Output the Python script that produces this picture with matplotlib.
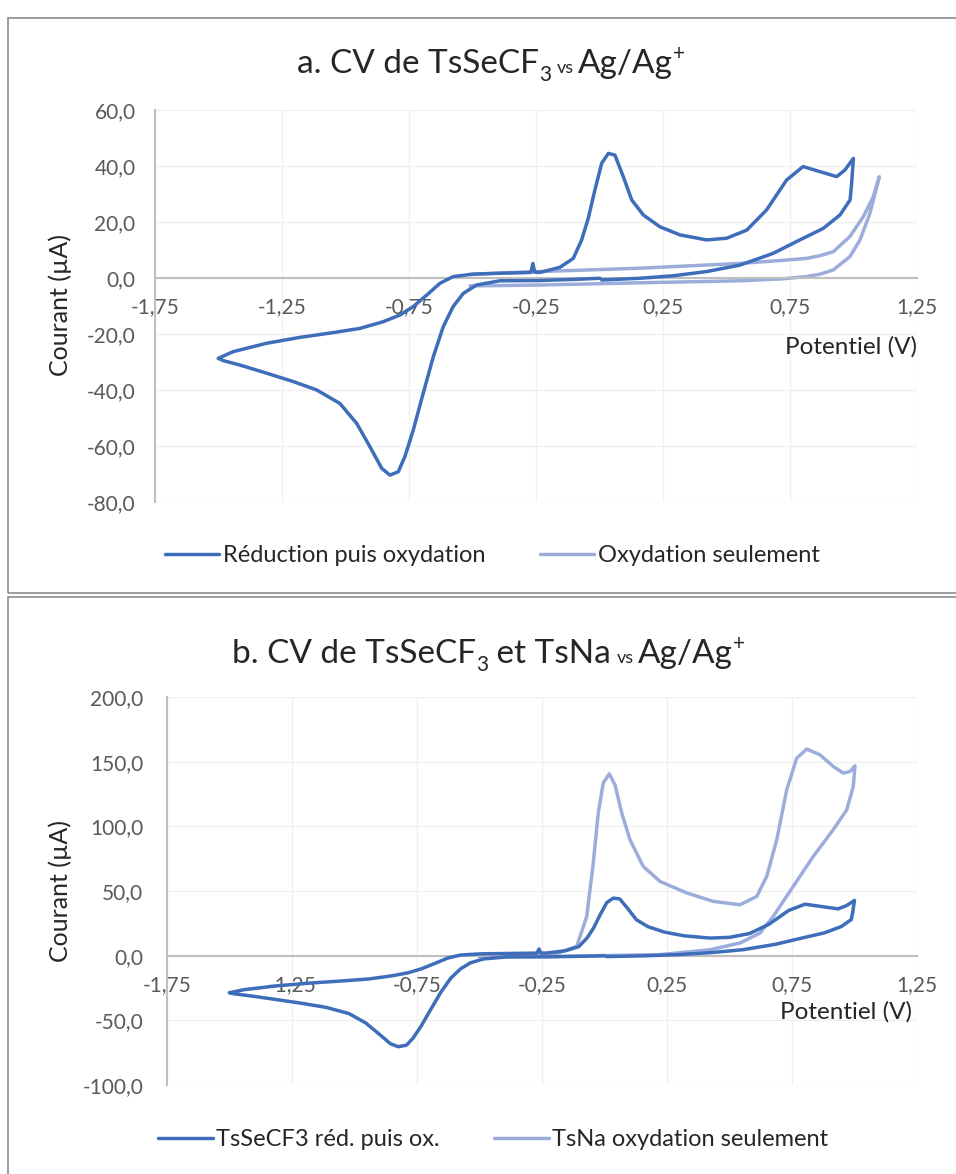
import matplotlib
matplotlib.use("Agg")

import matplotlib.pyplot as plt
from matplotlib.patches import Rectangle
from matplotlib.ticker import FuncFormatter

plt.rcParams['font.family'] = ['Lato', 'DejaVu Sans']

# TsSeCF3 : réduction puis oxydation
# départ vers 0 V, balayage négatif jusqu'à -1,5 V, retour jusqu'à 1,0 V, puis retour à 0 V
red_ox_E = [0.002, -0.10, -0.234, -0.392, -0.484, -0.536, -0.576, -0.615, -0.654, -0.694,
            -0.733, -0.766, -0.792, -0.825, -0.857, -0.904, -0.956, -1.022, -1.113, -1.205,
            -1.310, -1.415, -1.481, -1.501,
            -1.442, -1.310, -1.179, -1.048, -0.943, -0.851, -0.785, -0.733, -0.680, -0.628,
            -0.576, -0.497, -0.392, -0.30, -0.27, -0.262, -0.255, -0.234, -0.156, -0.103,
            -0.070, -0.044, -0.018, 0.009, 0.035, 0.061, 0.094, 0.127, 0.173, 0.238,
            0.317, 0.422, 0.501, 0.580, 0.658, 0.737, 0.802, 0.868, 0.934, 0.967, 1.0,
            0.993, 0.987, 0.947, 0.881, 0.789, 0.684, 0.553, 0.422, 0.291, 0.159, 0.009]
red_ox_I = [-0.1, -0.5, -0.9, -1.0, -2.5, -5.5, -10.2, -17.4, -28.1, -41.2,
            -54.3, -63.8, -69.2, -70.4, -68.0, -60.2, -51.9, -44.8, -40.0, -37.0,
            -34.0, -31.1, -29.5, -28.7,
            -26.3, -23.3, -21.2, -19.5, -18.0, -15.6, -13.2, -10.2, -6.1, -1.9,
            0.5, 1.4, 1.7, 1.9, 2.0, 5.2, 2.1, 2.0, 3.8, 7.0,
            13.6, 21.3, 31.4, 41.0, 44.5, 43.9, 36.2, 27.9, 22.5, 18.3,
            15.4, 13.6, 14.2, 17.1, 24.3, 35.0, 39.8, 38.0, 36.2, 38.6, 42.7,
            33.8, 27.9, 22.5, 17.7, 13.6, 8.8, 4.6, 2.3, 0.8, -0.1, -0.7]

# TsSeCF3 : oxydation seulement
ox_E = [-0.51, -0.392, -0.234, 0.159, 0.553, 0.72, 0.816, 0.87, 0.921, 0.986, 1.026,
        1.065, 1.102,
        1.078, 1.039, 0.986, 0.921, 0.87, 0.816, 0.72, 0.553, 0.159, -0.234, -0.392, -0.51]
ox_I = [-2.8, -2.7, -2.5, -1.7, -1.0, -0.3, 0.5, 1.4, 2.9, 7.6, 13.6,
        23.1, 36.2,
        29.0, 21.9, 14.8, 9.4, 8.0, 7.0, 6.3, 5.2, 3.5, 2.3, 1.8, 1.2]

# TsNa : oxydation seulement
tsna_E = [-0.50, -0.42, -0.25, -0.178, -0.111, -0.071, -0.045, -0.025, -0.005, 0.019,
          0.042, 0.069, 0.102, 0.155, 0.222, 0.329, 0.435, 0.542, 0.609, 0.649,
          0.689, 0.729, 0.769, 0.809, 0.862, 0.915, 0.955, 0.982, 1.002,
          0.995, 0.969, 0.915, 0.835, 0.755, 0.675, 0.622, 0.542, 0.422, 0.222,
          -0.178, -0.50]
tsna_I = [-0.5, -0.5, 0.5, 2.6, 7.2, 30.4, 71.6, 110.3, 133.5, 140.6,
          132.1, 110.3, 89.6, 69.0, 57.4, 48.5, 42.0, 39.4, 45.8, 61.3,
          89.6, 128.3, 152.8, 159.7, 155.3, 146.3, 141.2, 142.4, 146.8,
          130.8, 112.8, 97.4, 76.7, 53.6, 30.4, 17.5, 9.8, 4.6, 0.8,
          -0.5, -0.8]

x_ticks = [-1.75, -1.25, -0.75, -0.25, 0.25, 0.75, 1.25]
ya_ticks = [-80, -60, -40, -20, 0, 20, 40, 60]
yb_ticks = [-100, -50, 0, 50, 100, 150, 200]

DARK = "#3E6DBA"
PALE = "#9CADDC"
AXIS = "#BFBFBF"
GRID = "#F0F0F0"
TICK = "#595959"
TEXT = "#262626"


def comma(fmt):
    return FuncFormatter(lambda v, p: fmt.format(v).replace(".", ","))


def setup(ax, yticks, ypad):
    ax.set_xlim(-1.75, 1.25)
    ax.set_ylim(yticks[0], yticks[-1])
    ax.set_xticks(x_ticks)
    ax.set_yticks(yticks)
    ax.xaxis.set_major_formatter(comma("{:.2f}"))
    ax.yaxis.set_major_formatter(comma("{:.1f}"))
    ax.grid(color=GRID, lw=1)
    ax.set_axisbelow(True)
    for s in ["top", "right"]:
        ax.spines[s].set_visible(False)
    ax.spines["bottom"].set_position(("data", 0))
    for s in ["bottom", "left"]:
        ax.spines[s].set_color(AXIS)
        ax.spines[s].set_linewidth(1.5)
    ax.tick_params(axis="x", length=0, pad=14, labelsize=15, labelcolor=TICK)
    ax.tick_params(axis="y", length=0, pad=ypad, labelsize=15, labelcolor=TICK)


def rich_title(ax, x, y, pieces):
    # morceaux de texte enchaînés (indice, "vs" plus petit, exposant)
    prev = None
    for txt, size, dy, gap in pieces:
        if prev is None:
            prev = ax.annotate(txt, xy=(x, y), xycoords="figure fraction",
                               fontsize=size, va="baseline", ha="left", color=TEXT,
                               annotation_clip=False)
        else:
            prev = ax.annotate(txt, xy=(1, y), xycoords=(prev, "figure fraction"),
                               xytext=(gap, dy), textcoords="offset points",
                               fontsize=size, va="baseline", ha="left", color=TEXT,
                               annotation_clip=False)


def curve(ax, E, I, color):
    line, = ax.plot(E, I, color=color, lw=2.5, solid_capstyle="round",
                    solid_joinstyle="round", zorder=3 if color == DARK else 2)
    return line


fig = plt.figure(figsize=(9.56, 11.74), dpi=100)

# cadres des deux graphiques
fig.patches.append(Rectangle((0.0084, 0.4949), 1.2, 0.4898, transform=fig.transFigure,
                             fill=False, ec="#8C8C8C", lw=1.2))
fig.patches.append(Rectangle((0.0084, -0.2), 1.2, 0.6915, transform=fig.transFigure,
                             fill=False, ec="#8C8C8C", lw=1.2))

leg_kw = dict(loc="center", ncol=2, frameon=False, fontsize=17, handlelength=2.3,
              handletextpad=0.15, columnspacing=2.3, labelcolor=TEXT)

# a.
ax1 = fig.add_axes([0.1621, 0.5724, 0.797, 0.3339])
setup(ax1, ya_ticks, 14)
l1 = curve(ax1, red_ox_E, red_ox_I, DARK)
l2 = curve(ax1, ox_E, ox_I, PALE)
rich_title(ax1, 0.3107, 0.9380, [("a. CV de TsSeCF", 24, 0, 0), ("3", 15, -6, 0),
                                 ("vs", 13, 0, 4), ("Ag/Ag", 24, 0, 3), ("+", 15, 9, 0)])
fig.text(0.063, 0.740, "Courant (µA)", rotation=90, ha="center", va="center",
         fontsize=18, color=TEXT)
fig.text(0.959, 0.7044, "Potentiel (V)", ha="right", va="center", fontsize=17.5, color=TEXT)
fig.legend([l1, l2], ["Réduction puis oxydation", "Oxydation seulement"],
           bbox_to_anchor=(0.515, 0.527), **leg_kw)

# b.
ax2 = fig.add_axes([0.1747, 0.0758, 0.7845, 0.3305])
setup(ax2, yb_ticks, 17)
l3 = curve(ax2, red_ox_E, red_ox_I, DARK)
l4 = curve(ax2, tsna_E, tsna_I, PALE)
rich_title(ax2, 0.2427, 0.4353, [("b. CV de TsSeCF", 24, 0, 0), ("3", 15, -6, 0),
                                 (" et TsNa", 24, 0, 0), ("vs", 13, 0, 4),
                                 ("Ag/Ag", 24, 0, 3), ("+", 15, 9, 0)])
fig.text(0.063, 0.241, "Courant (µA)", rotation=90, ha="center", va="center",
         fontsize=18, color=TEXT)
fig.text(0.954, 0.138, "Potentiel (V)", ha="right", va="center", fontsize=17.5, color=TEXT)
fig.legend([l3, l4], ["TsSeCF3 réd. puis ox.", "TsNa oxydation seulement"],
           bbox_to_anchor=(0.516, 0.029), **leg_kw)

fig.savefig("out.png", dpi=100)
